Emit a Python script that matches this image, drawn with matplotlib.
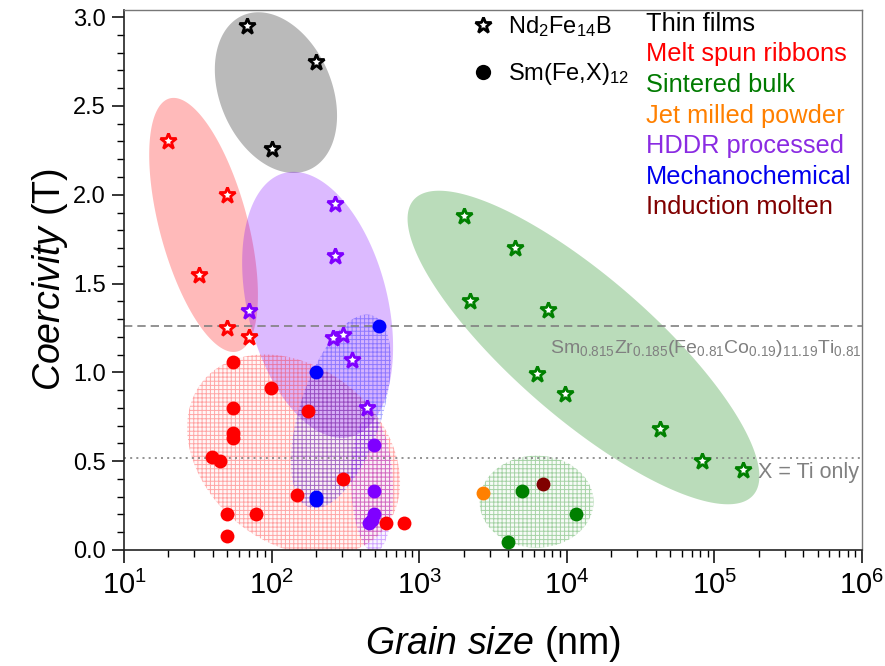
import numpy as np
import matplotlib
matplotlib.use('Agg')
import matplotlib.pyplot as plt
from matplotlib.ticker import MultipleLocator, LogLocator, NullFormatter

plt.rcParams['font.family'] = ['Liberation Sans', 'DejaVu Sans']
plt.rcParams['mathtext.fontset'] = 'custom'
plt.rcParams['mathtext.rm'] = 'Liberation Sans'
plt.rcParams['mathtext.it'] = 'Liberation Sans:italic'
plt.rcParams['mathtext.default'] = 'regular'
plt.rcParams['hatch.linewidth'] = 0.7

# ---------------- data ----------------
# Nd2Fe14B (stars)
thin_star_x = [68, 200, 100]
thin_star_y = [2.95, 2.75, 2.26]
melt_star_x = [20, 32, 50, 50, 70]
melt_star_y = [2.30, 1.55, 2.00, 1.25, 1.20]
hddr_star_x = [70, 270, 270, 260, 305, 350, 445]
hddr_star_y = [1.345, 1.95, 1.655, 1.195, 1.21, 1.07, 0.80]
sint_star_x = [2000, 4450, 2200, 7500, 6250, 9750, 43000, 82000, 157000]
sint_star_y = [1.88, 1.70, 1.40, 1.35, 0.99, 0.88, 0.68, 0.50, 0.45]

# Sm(Fe,X)12 (circles)
melt_circ_x = [54.5, 99, 54.5, 54.5, 54.5, 39.3, 44.7, 49.7, 79, 49.7, 149, 306, 177, 596, 788]
melt_circ_y = [1.06, 0.91, 0.80, 0.66, 0.63, 0.525, 0.50, 0.20, 0.20, 0.08, 0.31, 0.40, 0.78, 0.15, 0.15]
mech_circ_x = [537, 199, 199, 199]
mech_circ_y = [1.26, 1.00, 0.30, 0.28]
hddr_circ_x = [494, 494, 494, 459, 480]
hddr_circ_y = [0.59, 0.33, 0.20, 0.15, 0.17]
jet_circ_x = [2700]
jet_circ_y = [0.32]
sint_circ_x = [5000, 11500, 4000]
sint_circ_y = [0.33, 0.20, 0.045]
ind_circ_x = [6900]
ind_circ_y = [0.37]

# reference lines
line_sm_zr = 1.26
line_ti = 0.52

categories = ['Thin films', 'Melt spun ribbons', 'Sintered bulk', 'Jet milled powder',
              'HDDR processed', 'Mechanochemical', 'Induction molten']
cat_colors = ['#000000', '#ff0000', '#007a00', '#ff8000', '#8a2be2', '#0000ee', '#800000']

RED, GREEN, ORANGE, PURPLE, BLUE, DRED = '#ff0000', '#008000', '#ff8000', '#7f00ff', '#0000ff', '#800000'

# group regions: center (data), semi-axes (px), angle (deg), colour, hatched
regions = [
    (107, 2.575, 84, 56, 113, '#000000', False),
    (34.6, 1.83, 131, 44, 105, RED, False),
    (205, 1.38, 136, 70, 104, PURPLE, False),
    (12970, 1.14, 225, 70, -41, GREEN, False),
    (141, 0.535, 117, 88, 141, RED, True),
    (295, 0.78, 101, 41, 72, BLUE, True),
    (479, 0.37, 68, 21, 92, PURPLE, True),
    (6237, 0.272, 57, 46, 0, GREEN, True),
]

fig = plt.figure(figsize=(8.85, 6.66), dpi=100)
ax = fig.add_axes([124 / 885, 116 / 666, 738 / 885, 540 / 666])
ax.set_xscale('log')
ax.set_xlim(10, 1e6)
ax.set_ylim(0, 3.04)


def ellipse_pts(cx, cy, a, b, ang):
    t = np.linspace(0, 2 * np.pi, 300)
    px, py = ax.transData.transform((cx, cy))
    th = np.deg2rad(ang)
    ex, ey = a * np.cos(t), b * np.sin(t)
    dx = px + ex * np.cos(th) - ey * np.sin(th)
    dy = py + ex * np.sin(th) + ey * np.cos(th)
    return ax.transData.inverted().transform(np.column_stack([dx, dy]))


for cx, cy, a, b, ang, col, hatched in regions:
    pts = ellipse_pts(cx, cy, a, b, ang)
    rgba = matplotlib.colors.to_rgba(col)
    if hatched:
        ax.fill(pts[:, 0], pts[:, 1], facecolor=rgba[:3] + (0.03,),
                edgecolor=rgba[:3] + (0.33,), hatch='++++', lw=0, zorder=1)
    else:
        ax.fill(pts[:, 0], pts[:, 1], facecolor=rgba[:3] + (0.27,), lw=0, zorder=1)

ax.axhline(line_sm_zr, color='#808080', ls=(0, (5, 3)), lw=1.2, zorder=2)
ax.axhline(line_ti, color='#808080', ls=(0, (1.2, 2.5)), lw=1.2, zorder=2)

star_kw = dict(ls='none', marker='*', ms=12, mfc='white', mew=2, zorder=4)
circ_kw = dict(ls='none', marker='o', ms=10, mew=0, zorder=4)

ax.plot(thin_star_x, thin_star_y, mec='#000000', **star_kw)
ax.plot(melt_star_x, melt_star_y, mec=RED, **star_kw)
ax.plot(hddr_star_x, hddr_star_y, mec=PURPLE, **star_kw)
ax.plot(sint_star_x, sint_star_y, mec=GREEN, **star_kw)

ax.plot(melt_circ_x, melt_circ_y, mfc=RED, **circ_kw)
ax.plot(mech_circ_x, mech_circ_y, mfc=BLUE, **circ_kw)
ax.plot(hddr_circ_x, hddr_circ_y, mfc=PURPLE, **circ_kw)
ax.plot(jet_circ_x, jet_circ_y, mfc=ORANGE, **circ_kw)
ax.plot(sint_circ_x, sint_circ_y, mfc=GREEN, **circ_kw)
ax.plot(ind_circ_x, ind_circ_y, mfc=DRED, **circ_kw)

# annotations for reference lines
ax.text(1e6, 1.11, r'Sm$_{0.815}$Zr$_{0.185}$(Fe$_{0.81}$Co$_{0.19}$)$_{11.19}$Ti$_{0.81}$',
        color='#808080', fontsize=14, ha='right', va='baseline', zorder=5)
ax.text(1.97e5, 0.435, 'X = Ti only', color='#808080', fontsize=15.5, ha='left', va='center', zorder=5)

# marker legend
ax.plot([0.4865], [0.972], transform=ax.transAxes, ls='none', marker='*', ms=12,
        mfc='white', mec='black', mew=2, clip_on=False)
ax.plot([0.4865], [0.885], transform=ax.transAxes, ls='none', marker='o', ms=11,
        mfc='black', mew=0, clip_on=False)
ax.text(0.520, 0.958, r'Nd$_2$Fe$_{14}$B', transform=ax.transAxes, fontsize=17, va='baseline')
ax.text(0.520, 0.871, r'Sm(Fe,X)$_{12}$', transform=ax.transAxes, fontsize=17, va='baseline')

# category legend
for i, (lab, col) in enumerate(zip(categories, cat_colors)):
    py = 24 + 30.5 * i
    ax.text(0.7073, (550 - py) / 540, lab, color=col, fontsize=18.3,
            transform=ax.transAxes, va='center', ha='left')

# axes styling
ax.yaxis.set_major_locator(MultipleLocator(0.5))
ax.yaxis.set_minor_locator(MultipleLocator(0.1))
ax.yaxis.set_major_formatter(matplotlib.ticker.FormatStrFormatter('%.1f'))
ax.xaxis.set_major_locator(LogLocator(base=10, numticks=10))
ax.xaxis.set_minor_locator(LogLocator(base=10, subs=np.arange(2, 10), numticks=50))
ax.xaxis.set_minor_formatter(NullFormatter())
ax.tick_params(which='major', direction='out', length=9, width=1.1)
ax.tick_params(which='minor', direction='out', length=5, width=1)
ax.tick_params(axis='y', labelsize=17, pad=4)
ax.tick_params(axis='x', labelsize=21, pad=6)
for s in ['left', 'bottom']:
    ax.spines[s].set_color('#222222')
    ax.spines[s].set_linewidth(1.2)
for s in ['top', 'right']:
    ax.spines[s].set_color('#777777')
    ax.spines[s].set_linewidth(1.0)

ax.set_ylabel(r'$\mathit{Coercivity}$ (T)', fontsize=27, labelpad=2)
ax.set_xlabel(r'$\mathit{Grain\ size}$ (nm)', fontsize=27, labelpad=17)

fig.savefig('out.png', dpi=100)
